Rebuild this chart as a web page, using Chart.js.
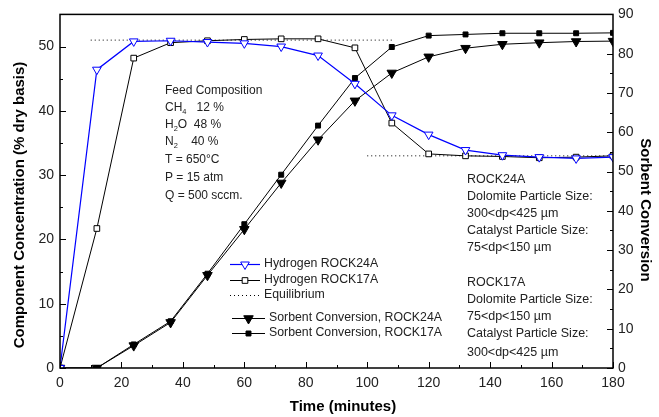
<!DOCTYPE html>
<html lang="en">
<head>
  <meta charset="UTF-8" />
  <title>Hydrogen and Sorbent Conversion</title>
  <script src="https://cdn.jsdelivr.net/npm/chart.js"></script>
  <style>
    body { margin: 0; padding: 0; background: #fff; }
    #wrap { width: 659px; height: 417px; position: relative; }
  </style>
</head>
<body>
  <div id="wrap"><canvas id="chart" width="659" height="417"></canvas></div>
  <script>
    // time in minutes
    const times = [0, 12, 24, 36, 48, 60, 72, 84, 96, 108, 120, 132, 144, 156, 168, 180];

    // hydrogen concentration (% dry basis)
    const h2Rock24A = [0, 46.4, 50.8, 50.9, 50.7, 50.5, 50.0, 48.6, 44.2, 39.3, 36.3, 33.9, 33.1, 32.8, 32.6, 32.8];
    const h2Rock17A = [0, 21.7, 48.2, 50.6, 50.9, 51.1, 51.2, 51.2, 49.8, 38.1, 33.3, 33.0, 32.9, 32.7, 32.8, 33.0];

    // sorbent conversion (%)
    const convRock24A = [0, 0, 5.7, 11.6, 23.6, 35.3, 47.1, 58.1, 68.0, 75.1, 79.2, 81.4, 82.4, 82.8, 83.1, 83.2];
    const convRock17A = [0, 0, 6.0, 11.9, 24.0, 36.6, 49.2, 61.7, 73.8, 81.7, 84.6, 84.9, 85.2, 85.2, 85.2, 85.3];

    // equilibrium levels
    const eqHighX = [10, 108];
    const eqHighY = [51.0, 51.0];
    const eqLowX = [100, 180];
    const eqLowY = [33.0, 33.0];

    const leftTicks = [0, 10, 20, 30, 40, 50];
    const rightTicks = [0, 10, 20, 30, 40, 50, 60, 70, 80, 90];
    const xTicks = [0, 20, 40, 60, 80, 100, 120, 140, 160, 180];

    const FONT = '"Liberation Sans", Arial, sans-serif';

    function pts(xs, ys) {
      return xs.map((x, i) => ({ x: x, y: ys[i] }));
    }

    // text with subscripts: parts = [[text, isSub], ...]
    function drawRich(ctx, x, y, parts, size) {
      let cx = x;
      parts.forEach(p => {
        if (p[1]) {
          ctx.font = (size * 0.62) + 'px ' + FONT;
          ctx.fillText(p[0], cx, y + size * 0.3);
        } else {
          ctx.font = size + 'px ' + FONT;
          ctx.fillText(p[0], cx, y);
        }
        cx += ctx.measureText(p[0]).width;
      });
    }

    const decor = {
      id: 'decor',
      afterDraw(chart) {
        const ctx = chart.ctx;
        const a = chart.chartArea;
        const sx = chart.scales.x, sy = chart.scales.y, sy2 = chart.scales.y2;
        ctx.save();

        // frame
        ctx.strokeStyle = '#000';
        ctx.lineWidth = 1.5;
        ctx.strokeRect(a.left, a.top, a.right - a.left, a.bottom - a.top);

        // inward ticks
        ctx.lineWidth = 1;
        ctx.beginPath();
        for (let v = 0; v <= 180; v += 10) {
          const px = Math.round(sx.getPixelForValue(v)) + 0.5;
          const len = v % 20 === 0 ? 6 : 3;
          ctx.moveTo(px, a.bottom);
          ctx.lineTo(px, a.bottom - len);
        }
        for (let v = 0; v <= 55; v += 5) {
          const py = Math.round(sy.getPixelForValue(v)) + 0.5;
          const len = v % 10 === 0 ? 6 : 3;
          ctx.moveTo(a.left, py);
          ctx.lineTo(a.left + len, py);
        }
        for (let v = 0; v <= 90; v += 5) {
          const py = Math.round(sy2.getPixelForValue(v)) + 0.5;
          const len = v % 10 === 0 ? 6 : 3;
          ctx.moveTo(a.right, py);
          ctx.lineTo(a.right - len, py);
        }
        ctx.stroke();

        // axis titles
        ctx.fillStyle = '#000';
        ctx.font = 'bold 15px ' + FONT;
        ctx.textAlign = 'center';
        ctx.textBaseline = 'middle';
        ctx.fillText('Time (minutes)', 343, 407);
        ctx.save();
        ctx.translate(20, 205);
        ctx.rotate(-Math.PI / 2);
        ctx.fillText('Component Concentration (% dry basis)', 0, 0);
        ctx.restore();
        ctx.save();
        ctx.translate(645, 210);
        ctx.rotate(Math.PI / 2);
        ctx.fillText('Sorbent Conversion', 0, 0);
        ctx.restore();

        // feed composition annotation
        ctx.textAlign = 'left';
        ctx.textBaseline = 'middle';
        ctx.fillStyle = '#222';
        const fs = 12;
        drawRich(ctx, 165, 91, [['Feed Composition', false]], fs);
        drawRich(ctx, 165, 108, [['CH', false], ['4', true], ['   12 %', false]], fs);
        drawRich(ctx, 165, 125, [['H', false], ['2', true], ['O  48 %', false]], fs);
        drawRich(ctx, 165, 142, [['N', false], ['2', true], ['    40 %', false]], fs);
        drawRich(ctx, 165, 160, [['T = 650\u00B0C', false]], fs);
        drawRich(ctx, 165, 178, [['P = 15 atm', false]], fs);
        drawRich(ctx, 165, 196, [['Q = 500 sccm.', false]], fs);

        // particle size notes
        const notes = [
          ['ROCK24A', 180], ['Dolomite Particle Size:', 197], ['300<dp<425 \u00B5m', 214],
          ['Catalyst Particle Size:', 231], ['75<dp<150 \u00B5m', 248],
          ['ROCK17A', 283], ['Dolomite Particle Size:', 300], ['75<dp<150 \u00B5m', 317],
          ['Catalyst Particle Size:', 334], ['300<dp<425 \u00B5m', 353]
        ];
        ctx.font = '12.5px ' + FONT;
        notes.forEach(n => ctx.fillText(n[0], 467, n[1]));

        // legend
        const ds = chart.data.datasets;
        const leg = [
          { y: 264, x0: 230, x1: 260, text: 'Hydrogen ROCK24A', d: ds[0] },
          { y: 280, x0: 230, x1: 260, text: 'Hydrogen ROCK17A', d: ds[1] },
          { y: 295, x0: 230, x1: 260, text: 'Equilibrium', d: ds[4] },
          { y: 318, x0: 232, x1: 265, text: 'Sorbent Conversion, ROCK24A', d: ds[2] },
          { y: 333, x0: 232, x1: 265, text: 'Sorbent Conversion, ROCK17A', d: ds[3] }
        ];
        leg.forEach(l => {
          const d = l.d;
          ctx.strokeStyle = d.borderColor;
          ctx.lineWidth = d.borderWidth;
          ctx.setLineDash(d.borderDash || []);
          ctx.beginPath();
          ctx.moveTo(l.x0, l.y + 0.5);
          ctx.lineTo(l.x1, l.y + 0.5);
          ctx.stroke();
          ctx.setLineDash([]);
          if (d.pointRadius > 0) {
            ctx.fillStyle = d.pointBackgroundColor;
            ctx.strokeStyle = d.pointBorderColor;
            ctx.lineWidth = 1;
            Chart.helpers.drawPoint(ctx, {
              pointStyle: d.pointStyle, rotation: d.pointRotation || 0,
              radius: d.pointRadius, borderWidth: 1
            }, (l.x0 + l.x1) / 2, l.y + 0.5);
          }
          ctx.fillStyle = '#222';
          ctx.font = '12.3px ' + FONT;
          ctx.fillText(l.text, l.x1 + 4, l.y);
        });

        ctx.restore();
      }
    };

    new Chart(document.getElementById('chart'), {
      type: 'line',
      data: {
        datasets: [
          {
            label: 'Hydrogen ROCK24A',
            data: pts(times, h2Rock24A),
            yAxisID: 'y',
            borderColor: '#0000ff',
            borderWidth: 1.2,
            pointStyle: 'triangle',
            pointRotation: 180,
            pointRadius: 5,
            pointBackgroundColor: '#fff',
            pointBorderColor: '#0000ff',
            pointBorderWidth: 1,
            order: 1
          },
          {
            label: 'Hydrogen ROCK17A',
            data: pts(times, h2Rock17A),
            yAxisID: 'y',
            borderColor: '#000',
            borderWidth: 1,
            pointStyle: 'rect',
            pointRadius: 4,
            pointBackgroundColor: '#fff',
            pointBorderColor: '#000',
            pointBorderWidth: 1,
            order: 2
          },
          {
            label: 'Sorbent Conversion, ROCK24A',
            data: pts(times, convRock24A),
            yAxisID: 'y2',
            borderColor: '#000',
            borderWidth: 1,
            pointStyle: 'triangle',
            pointRotation: 180,
            pointRadius: 5.5,
            pointBackgroundColor: '#000',
            pointBorderColor: '#000',
            pointBorderWidth: 1,
            order: 3
          },
          {
            label: 'Sorbent Conversion, ROCK17A',
            data: pts(times, convRock17A),
            yAxisID: 'y2',
            borderColor: '#000',
            borderWidth: 1,
            pointStyle: 'rect',
            pointRadius: 3.5,
            pointBackgroundColor: '#000',
            pointBorderColor: '#000',
            pointBorderWidth: 1,
            order: 4
          },
          {
            label: 'Equilibrium',
            data: pts(eqHighX, eqHighY),
            yAxisID: 'y',
            borderColor: '#000',
            borderWidth: 1,
            borderDash: [1, 3],
            pointRadius: 0,
            order: 5
          },
          {
            label: 'Equilibrium (low)',
            data: pts(eqLowX, eqLowY),
            yAxisID: 'y',
            borderColor: '#000',
            borderWidth: 1,
            borderDash: [1, 3],
            pointRadius: 0,
            order: 6
          }
        ]
      },
      options: {
        responsive: false,
        animation: false,
        layout: { padding: { top: 14, left: 0, right: 0, bottom: 0 } },
        plugins: {
          legend: { display: false },
          tooltip: { enabled: false }
        },
        elements: { line: { tension: 0 } },
        scales: {
          x: {
            type: 'linear',
            min: 0,
            max: 180,
            afterBuildTicks: s => { s.ticks = xTicks.map(v => ({ value: v })); },
            afterFit: s => { s.height = 49; },
            grid: { display: false, drawTicks: false },
            border: { display: false },
            ticks: { padding: 7, color: '#222', font: { family: FONT, size: 14 } }
          },
          y: {
            type: 'linear',
            position: 'left',
            min: 0,
            max: 55,
            afterBuildTicks: s => { s.ticks = leftTicks.map(v => ({ value: v })); },
            afterFit: s => { s.width = 60; },
            grid: { display: false, drawTicks: false },
            border: { display: false },
            ticks: { padding: 6, color: '#222', font: { family: FONT, size: 14 } }
          },
          y2: {
            type: 'linear',
            position: 'right',
            min: 0,
            max: 90,
            afterBuildTicks: s => { s.ticks = rightTicks.map(v => ({ value: v })); },
            afterFit: s => { s.width = 46; },
            grid: { display: false, drawTicks: false },
            border: { display: false },
            ticks: { padding: 5, color: '#222', font: { family: FONT, size: 14 } }
          }
        }
      },
      plugins: [decor]
    });
  </script>
</body>
</html>
